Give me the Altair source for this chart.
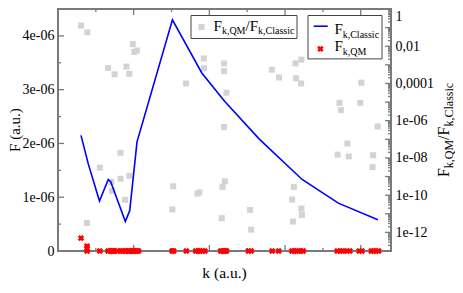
import altair as alt
import pandas as pd

# ---------------- data ----------------
# classical force (blue line)
classic_k = [15.2, 20.0, 27.4, 33.2, 34.8, 44.5, 47.4, 52.2, 75.6, 95.0, 110.2, 133.0, 161.3, 185.2, 211.3]
classic_F = [2.15e-6, 1.62e-6, 0.93e-6, 1.33e-6, 1.29e-6, 0.55e-6, 0.75e-6, 2.03e-6, 4.30e-6,
             3.31e-6, 2.78e-6, 2.08e-6, 1.33e-6, 0.89e-6, 0.58e-6]

# quantum force (red crosses)
qm_k = [15.2, 19.2, 19.2, 19.2, 27.6, 33.1, 34.5, 35.5, 36.5, 37.4, 39.0, 41.3, 42.5, 44.3,
        45.2, 46.5, 47.1, 48.5, 49.4, 50.4, 51.5, 52.2, 53.2, 75.4, 76.4, 84.8, 91.0, 92.5,
        93.8, 95.5, 97.0, 107.5, 108.7, 109.7, 110.5, 111.3, 125.8, 127.6, 141.5, 145.8,
        154.5, 156.0, 157.5, 159.0, 160.5, 162.0, 184.5, 186.5, 188.0, 191.0, 192.8, 199.0,
        200.8, 207.0, 208.5, 210.0, 211.8]
qm_F = [0.24e-6, 0.09e-6, 0.05e-6, 0.0] + [0.0] * 53

# ratio F_QM / F_Classic (grey squares, right log axis)
ratio_k = [15.2, 19.4, 19.1, 27.6, 33.1, 37.4, 35.2, 35.7, 41.3, 41.3, 44.3, 47.1, 45.2, 47.1,
           49.4, 50.4, 52.2, 76.1, 75.6, 84.6, 92.1, 93.4, 96.3, 96.5, 109.7, 109.7, 111.3,
           109.7, 108.7, 110.2, 108.2, 126.9, 127.6, 141.3, 146.0, 156.9, 160.8, 157.3, 160.6,
           155.8, 154.7, 160.8, 161.2, 155.2, 186.0, 186.9, 199.7, 211.2, 191.2, 184.7, 192.1,
           208.2, 207.8, 200.4]
ratio_v = [1.3e-1, 5.6e-2, 3.2e-12, 3.0e-9, 6.8e-4, 3.1e-4, 5.1e-10, 1.7e-10, 1.9e-8, 7.6e-10,
           5.6e-11, 1.1e-9, 8.1e-4, 3.3e-4, 1.3e-2, 4.9e-3, 5.9e-3, 3.0e-10, 1.7e-11, 1.0e-4,
           1.2e-10, 1.4e-10, 2.2e-3, 6.5e-4, 1.2e-3, 4.6e-4, 3.2e-5, 4.6e-7, 2.8e-10, 5.5e-10,
           5.8e-12, 1.6e-11, 1.4e-12, 5.5e-4, 2.1e-4, 1.2e-3, 1.9e-3, 1.9e-4, 1.0e-4, 2.8e-10,
           5.8e-11, 1.9e-11, 8.7e-12, 3.8e-12, 9.1e-6, 3.7e-6, 9.1e-6, 4.9e-7, 5.9e-8, 1.5e-8,
           1.2e-8, 1.4e-8, 3.2e-9, 1.1e-4]

# axis ticks
x_major = [50, 100, 150, 200]
x_minor = [25, 75, 125, 175]
yl_labels = [0, 1e-6, 2e-6, 3e-6, 4e-6]
yl_major = [1e-6, 2e-6, 3e-6, 4e-6]
yl_minor = [0.5e-6, 1.5e-6, 2.5e-6, 3.5e-6]
yr_labels = [1, 1e-2, 1e-4, 1e-6, 1e-8, 1e-10, 1e-12]
yr_major = [10.0 ** (-n) for n in range(0, 13)]
yr_minor = [m * 10.0 ** (-n) for n in range(1, 14) for m in range(2, 10)]

# ---------------- style ----------------
W, H = 333, 242
FONT = "Liberation Serif"
GRAY = "#7a7a7a"

classic_df = pd.DataFrame({"k": classic_k, "F": classic_F})
qm_df = pd.DataFrame({"k": qm_k, "F": qm_F})
ratio_df = pd.DataFrame({"k": ratio_k, "r": ratio_v})
dummy = pd.DataFrame({"a": [0]})

x_scale = alt.Scale(domain=[0, 220], nice=False, zero=False)
yl_scale = alt.Scale(domain=[0, 4.5e-6], nice=False, zero=False)
yr_scale = alt.Scale(type="log", domain=[1e-13, 1], nice=False)


def ax(**kw):
    return alt.Axis(labelFont=FONT, labelFontSize=14, labelColor="black", ticks=False,
                    domain=False, grid=False, title=None, **kw)


line = alt.Chart(classic_df).mark_line(color="#0000ff", strokeWidth=1.6).encode(
    x=alt.X("k:Q", scale=x_scale, axis=ax(values=x_major, orient="bottom", labelPadding=3)),
    y=alt.Y("F:Q", scale=yl_scale,
            axis=ax(values=yl_labels, orient="left", labelPadding=4,
                    labelExpr="datum.value == 0 ? '0' : round(datum.value*1e6) + 'e-06'")),
)

qm = alt.Chart(qm_df).mark_point(shape="cross", angle=45, filled=True, color="#ff0000",
                                 size=42, opacity=1).encode(
    x=alt.X("k:Q", scale=x_scale, axis=None),
    y=alt.Y("F:Q", scale=yl_scale, axis=None),
)

r_expr = ("datum.value > 0.5 ? '1' : datum.value > 5e-3 ? '0,01' : datum.value > 5e-5 ? '0,0001' : "
          "datum.value > 5e-7 ? '1e-06' : datum.value > 5e-9 ? '1e-08' : datum.value > 5e-11 ? '1e-10' : '1e-12'")

squares = alt.Chart(ratio_df).mark_square(size=36, color="#d3d3d3", opacity=1).encode(
    x=alt.X("k:Q", scale=x_scale, axis=None),
    y=alt.Y("r:Q", scale=yr_scale,
            axis=ax(values=yr_labels, orient="right", labelPadding=4, labelExpr=r_expr,
                    labelFlush=True)),
)


def yticks(vals, length, scale, field, right):
    df = pd.DataFrame({field: vals})
    x0 = W if right else 0
    x1 = W - length if right else length
    return alt.Chart(df).mark_rule(color=GRAY, strokeWidth=1.3).encode(
        y=alt.Y(f"{field}:Q", scale=scale, axis=None),
        x=alt.value(x0), x2=alt.value(x1))


def xticks(vals, length, top):
    df = pd.DataFrame({"k": vals})
    y0 = 0 if top else H
    y1 = length if top else H - length
    return alt.Chart(df).mark_rule(color=GRAY, strokeWidth=1.3).encode(
        x=alt.X("k:Q", scale=x_scale, axis=None),
        y=alt.value(y0), y2=alt.value(y1))


def txt(s, x, y, size, angle=0, align="left"):
    kw = dict(text=s, font=FONT, fontSize=size, align=align, baseline="alphabetic", color="black")
    if angle:
        kw["angle"] = angle
    return alt.Chart(dummy).mark_text(**kw).encode(x=alt.value(x), y=alt.value(y))


def box(x0, x1, y0, y1):
    return alt.Chart(dummy).mark_rect(fill="white", stroke="#444444", strokeWidth=1).encode(
        x=alt.value(x0), x2=alt.value(x1), y=alt.value(y0), y2=alt.value(y1))


layers = [
    squares,
    yticks(yr_major, 6, yr_scale, "r", True),
    yticks(yr_minor, 3, yr_scale, "r", True),
    line,
    yticks(yl_major, 6, yl_scale, "F", False),
    yticks(yl_minor, 3, yl_scale, "F", False),
    xticks(x_major, 6, False), xticks(x_minor, 3, False),
    xticks(x_major, 6, True), xticks(x_minor, 3, True),
    qm,
    # legend box 1
    box(133, 239, 6.5, 29.5),
    alt.Chart(dummy).mark_square(size=36, color="#d3d3d3", opacity=1).encode(
        x=alt.value(143.5), y=alt.value(18)),
    txt("F", 155.6, 21.5, 15), txt("k,QM", 163.9, 25.2, 10),
    txt("/", 187.5, 21.5, 15), txt("F", 191.7, 21.5, 15), txt("k,Classic", 200.0, 25.2, 10),
    # legend box 2
    box(250, 324, 6.5, 49.9),
    alt.Chart(dummy).mark_rule(color="#0000ff", strokeWidth=1.6).encode(
        x=alt.value(255.7), x2=alt.value(269.7), y=alt.value(17.2)),
    txt("F", 276.4, 24.9, 15), txt("k,Classic", 284.7, 28.5, 10),
    alt.Chart(dummy).mark_point(shape="cross", angle=45, filled=True, color="#ff0000",
                                size=42, opacity=1).encode(x=alt.value(262.4), y=alt.value(39.9)),
    txt("F", 276.4, 42.2, 15), txt("k,QM", 284.7, 45.8, 10),
    # axis titles
    txt("k (a.u.)", 166.5, 268.5, 15.5, align="center"),
    txt("F (a.u.)", -38, 121, 15, angle=270, align="center"),
    txt("F", 391, 168.1, 16, angle=270), txt("k,QM", 394.5, 159.2, 12, angle=270),
    txt("/", 391, 130.9, 16, angle=270), txt("F", 391, 126.4, 16, angle=270),
    txt("k,Classic", 394.5, 117.5, 12, angle=270),
]

chart = alt.layer(*layers).resolve_scale(y="independent").properties(
    width=W, height=H,
    autosize=alt.AutoSizeParams(type="none"),
    padding={"left": 50, "top": 1, "right": 64, "bottom": 30},
).configure_view(stroke=GRAY, strokeWidth=2)

chart.save("out.html", embed_options={"renderer": "svg", "actions": False})
